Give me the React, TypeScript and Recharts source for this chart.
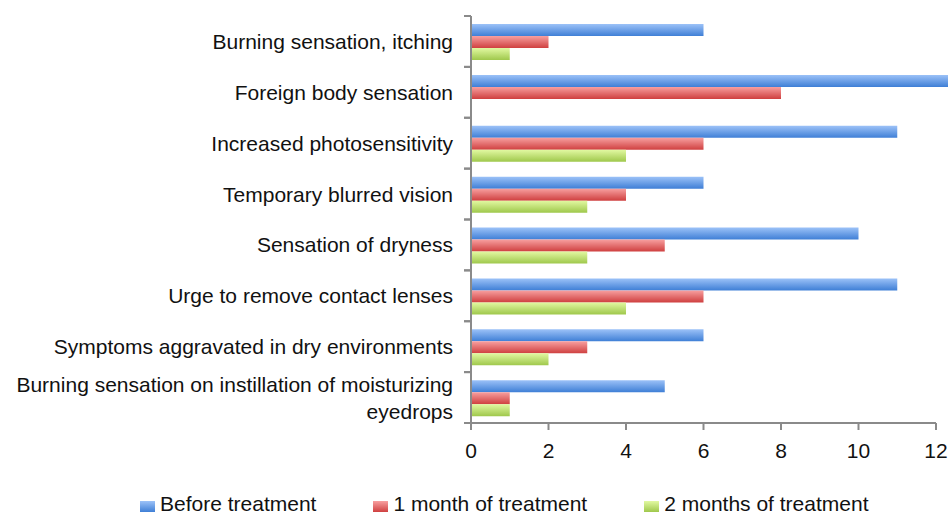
import { BarChart, Bar, XAxis, YAxis, Legend, ReferenceLine } from 'recharts'

const categories = [
  'Burning sensation, itching',
  'Foreign body sensation',
  'Increased photosensitivity',
  'Temporary blurred vision',
  'Sensation of dryness',
  'Urge to remove contact lenses',
  'Symptoms aggravated in dry environments',
  'Burning sensation on instillation of moisturizing eyedrops',
]
const beforeTreatment = [6, 13, 11, 6, 10, 11, 6, 5]
const oneMonth = [2, 8, 6, 4, 5, 6, 3, 1]
const twoMonths = [1, 0, 4, 3, 3, 4, 2, 1]
const xTicks = [0, 2, 4, 6, 8, 10, 12]

const series = [
  { key: 'before', name: 'Before treatment', top: '#9cc2f8', bottom: '#3f7fd6' },
  { key: 'month1', name: '1 month of treatment', top: '#f8a0a0', bottom: '#cf4040' },
  { key: 'month2', name: '2 months of treatment', top: '#e2f9a2', bottom: '#9fc84c' },
]

const data = categories.map((name, i) => ({
  name,
  before: beforeTreatment[i],
  month1: oneMonth[i],
  month2: twoMonths[i],
}))

const FONT = '"Liberation Sans", Arial, sans-serif'
const FONT_SIZE = 21
const AXIS = '#8a8a8a'
const LABEL_GAP = 18

let measureCtx: CanvasRenderingContext2D | null = null
function textWidth(s: string) {
  if (!measureCtx) measureCtx = document.createElement('canvas').getContext('2d')
  if (!measureCtx) return s.length * FONT_SIZE * 0.5
  measureCtx.font = `${FONT_SIZE}px ${FONT}`
  return measureCtx.measureText(s).width
}

// split a label into lines no wider than maxWidth
function wrapLabel(label: string, maxWidth: number) {
  const lines: string[] = []
  let line = ''
  for (const word of label.split(' ')) {
    const next = line ? line + ' ' + word : word
    if (line && textWidth(next) > maxWidth) {
      lines.push(line)
      line = word
    } else {
      line = next
    }
  }
  if (line) lines.push(line)
  return lines
}

// category label plus tick marks on the band edges (Excel style)
function CategoryTick(props: any) {
  const { x, y, payload } = props
  const lines = wrapLabel(String(payload.value), 448)
  const lineHeight = 27
  const half = payload.offset ?? 0
  const ax = x + LABEL_GAP
  return (
    <g>
      <line x1={ax - 7} x2={ax} y1={y - half} y2={y - half} stroke={AXIS} strokeWidth={2} />
      <line x1={ax - 7} x2={ax} y1={y + half} y2={y + half} stroke={AXIS} strokeWidth={2} />
      <text x={x} y={y} textAnchor="end" fill="#111" style={{ fontSize: FONT_SIZE, fontFamily: FONT }}>
        {lines.map((l, i) => (
          <tspan key={i} x={x} y={y - ((lines.length - 1) * lineHeight) / 2 + i * lineHeight} dy="0.355em">
            {l}
          </tspan>
        ))}
      </text>
    </g>
  )
}

function LegendBox() {
  return (
    <div
      style={{
        display: 'flex',
        alignItems: 'center',
        paddingLeft: 140,
        fontFamily: FONT,
        fontSize: FONT_SIZE,
        lineHeight: '20px',
        color: '#111',
      }}
    >
      {series.map((s, i) => (
        <div key={s.key} style={{ display: 'flex', alignItems: 'center', marginLeft: i === 0 ? 0 : 57 }}>
          <span
            style={{
              display: 'inline-block',
              flex: 'none',
              width: 15,
              height: 11,
              marginTop: 4,
              marginRight: 5,
              background: `linear-gradient(${s.top}, ${s.bottom})`,
            }}
          />
          <span>{s.name}</span>
        </div>
      ))}
    </div>
  )
}

export default function App() {
  return (
    <div style={{ position: 'absolute', top: 0, left: 0, width: 948, height: 514, overflow: 'hidden' }}>
      <BarChart
        width={1008}
        height={514}
        data={data}
        layout="vertical"
        margin={{ top: 16, right: 33.25, left: 0, bottom: 51 }}
        barCategoryGap={8}
        barGap={0}
      >
        <defs>
          {series.map((s) => (
            <linearGradient key={s.key} id={`grad-${s.key}`} x1="0" y1="0" x2="0" y2="1">
              <stop offset="0%" stopColor={s.top} />
              <stop offset="100%" stopColor={s.bottom} />
            </linearGradient>
          ))}
        </defs>
        <YAxis
          type="category"
          dataKey="name"
          width={471}
          axisLine={{ stroke: AXIS, strokeWidth: 2 }}
          tickLine={false}
          tickSize={0}
          tickMargin={LABEL_GAP}
          interval={0}
          tick={<CategoryTick />}
        />
        <XAxis
          type="number"
          domain={[0, 13]}
          ticks={xTicks}
          height={40}
          axisLine={false}
          tickLine={{ stroke: AXIS, strokeWidth: 2 }}
          tickSize={7}
          tickMargin={13}
          tick={{ fill: '#111', fontSize: FONT_SIZE, fontFamily: FONT }}
        />
        {series.map((s) => (
          <Bar
            key={s.key}
            dataKey={s.key}
            name={s.name}
            fill={`url(#grad-${s.key})`}
            isAnimationActive={false}
          />
        ))}
        {/* x axis line stops at the last tick (12) while the longest bar runs past it */}
        <ReferenceLine
          segment={[
            { x: xTicks[0], y: categories[categories.length - 1] },
            { x: xTicks[xTicks.length - 1], y: categories[categories.length - 1] },
          ]}
          position="end"
          stroke={AXIS}
          strokeWidth={2}
          ifOverflow="visible"
        />
        <Legend
          layout="horizontal"
          verticalAlign="middle"
          align="center"
          wrapperStyle={{ top: 494, left: 0, width: 948, height: 20 }}
          content={<LegendBox />}
        />
      </BarChart>
    </div>
  )
}
